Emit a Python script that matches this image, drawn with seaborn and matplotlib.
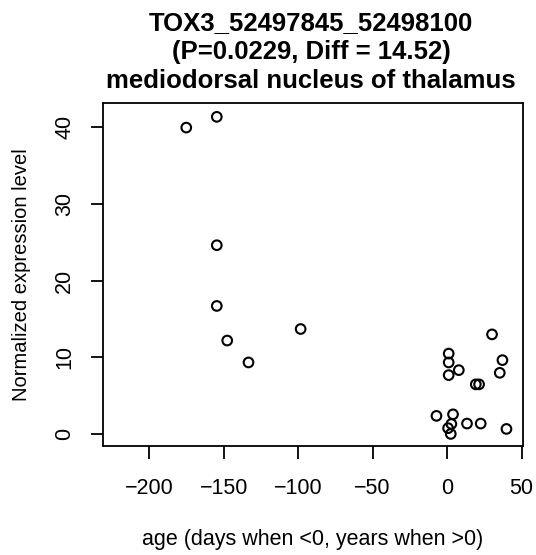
import matplotlib
matplotlib.use("Agg")
import matplotlib.pyplot as plt
import seaborn as sns
import pandas as pd

# values
age = [-175.1, -154.6, -154.6, -154.6, -147.6, -133.3, -98.3,
       30.2, 1.1, 1.1, 37.2, 7.9, 1.1, 35.4, 19.3, 21.5,
       -7.1, 4.0, 2.9, 0.7, 2.5, 13.4, 22.6, 39.9]
expression = [39.9, 41.3, 24.6, 16.7, 12.2, 9.35, 13.7,
              13.0, 10.5, 9.35, 9.65, 8.35, 7.7, 8.0, 6.5, 6.5,
              2.4, 2.6, 1.35, 0.8, 0.05, 1.4, 1.4, 0.7]
x_ticks = [-200, -150, -100, -50, 0, 50]
y_ticks = [0, 10, 20, 30, 40]

title = "TOX3_52497845_52498100\n(P=0.0229, Diff = 14.52)\nmediodorsal nucleus of thalamus"

df = pd.DataFrame({"age": age, "expr": expression})

sns.set_style("ticks")
plt.rcParams['font.family'] = ['Liberation Sans', 'DejaVu Sans']
plt.rcParams['text.color'] = 'black'
plt.rcParams['axes.labelcolor'] = 'black'

fig = plt.figure(figsize=(5.36, 5.55), dpi=100)
ax = fig.add_axes([103 / 536, 1 - 446 / 555, 420 / 536, 343 / 555])

sns.scatterplot(data=df, x="age", y="expr", ax=ax, marker="o",
                facecolor="none", edgecolor="black", linewidth=1.5, s=48)

ax.set_xlim(-231, 51)
ax.set_ylim(-1.52, 43.1)
ax.set_xticks(x_ticks)
ax.set_yticks(y_ticks)
ax.set_xticklabels([str(t).replace("-", "\u2212") for t in x_ticks])
ax.set_yticklabels([str(t) for t in y_ticks], rotation=90, va="center")
ax.tick_params(axis="both", length=9, width=1.3, color="black",
               labelsize=15.5, labelcolor="black")
ax.tick_params(axis="x", pad=14)
ax.tick_params(axis="y", pad=11)
for sp in ax.spines.values():
    sp.set_visible(True)
    sp.set_linewidth(1.3)
    sp.set_color("black")

ax.set_xlabel("age (days when <0, years when >0)", fontsize=15.5, labelpad=22)
ax.set_ylabel("Normalized expression level", fontsize=14.5, labelpad=17)

# title centred over the plot region, like R's main=
fig.text(311 / 536, 1 - 52 / 555, title, fontsize=18.5, fontweight="bold",
         linespacing=1.28, ha="center", va="center")

fig.savefig("out.png", dpi=100)
